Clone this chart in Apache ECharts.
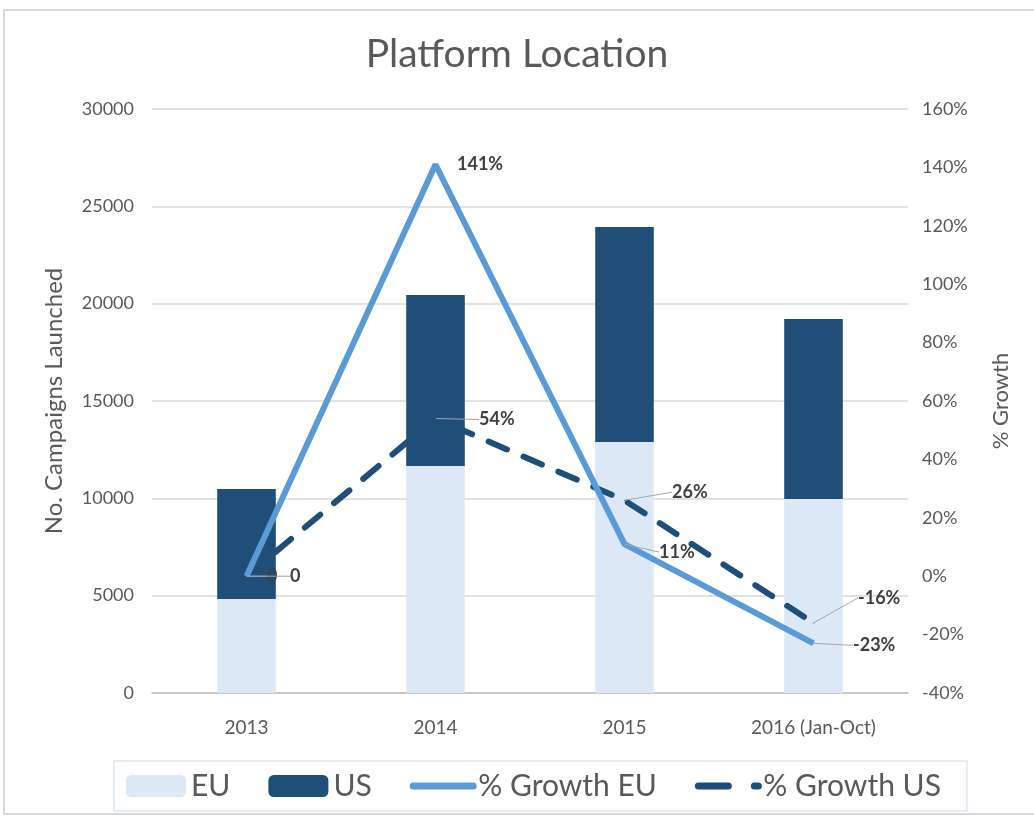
<!DOCTYPE html>
<html>
<head>
<meta charset="utf-8">
<script src="https://cdn.jsdelivr.net/npm/echarts@6/dist/echarts.min.js"></script>
<style>
html,body{margin:0;padding:0;background:#fff;}
#wrap{position:relative;width:1034px;height:820px;overflow:hidden;}
#frame{position:absolute;left:3px;top:9px;width:1040px;height:806px;border:2px solid #d9d9d9;box-sizing:border-box;}
#chart{position:absolute;left:0;top:0;width:1034px;height:820px;}
</style>
</head>
<body>
<div id="wrap"><div id="frame"></div><div id="chart"></div></div>
<script>
const categories = ['2013', '2014', '2015', '2016 (Jan-Oct)'];
const euCampaigns = [4830, 11660, 12890, 9960];
const usCampaigns = [5650, 8790, 11050, 9250];
const growthEU = [0, 141, 11, -23];
const growthUS = [0, 54, 26, -16];
const leftTicks = [0, 30000, 5000];
const rightTicks = [-40, 160, 20];

const FONT = 'Lato, "Open Sans", sans-serif';
const fmt = p => p.value === 0 ? '0' : p.value + '%';

const euLabelOffsets = [[43, 0], [21, 0], [34, 8], [39, 2]];
const usLabelOffsets = [[20, 0], [43, 1], [47, -8], [44, -25]];
const euNoLeader = [false, true, false, false];

const chart = echarts.init(document.getElementById('chart'));
chart.setOption({
  animation: false,
  textStyle: {fontFamily: FONT},
  title: {
    text: 'Platform Location', left: 'center', top: 30,
    textStyle: {fontFamily: FONT, fontSize: 39, fontWeight: 'normal', color: '#595959'}
  },
  grid: {left: 152, right: 126, top: 109, bottom: 127},
  legend: {
    bottom: 9, left: 114,
    padding: [10, 26, 10, 12],
    borderColor: '#dbe7f3', borderWidth: 1.5,
    itemWidth: 60, itemHeight: 22, itemGap: 38,
    textStyle: {fontFamily: FONT, fontSize: 30, color: '#595959'},
    data: [
      {name: 'EU'},
      {name: 'US'},
      {name: '% Growth EU', itemStyle: {opacity: 0}, lineStyle: {width: 7, color: '#5b9bd5', cap: 'round'}},
      {name: '% Growth US', itemStyle: {opacity: 0}, lineStyle: {width: 7, color: '#1f4e79', type: [30, 26], cap: 'round'}}
    ]
  },
  xAxis: {
    type: 'category', data: categories,
    axisTick: {show: false},
    axisLine: {lineStyle: {color: '#bfbfbf', width: 1.5}},
    axisLabel: {fontFamily: FONT, fontSize: 19, color: '#595959', margin: 25}
  },
  yAxis: [
    {
      type: 'value', min: leftTicks[0], max: leftTicks[1], interval: leftTicks[2],
      name: 'No. Campaigns Launched', nameLocation: 'middle', nameRotate: 90, nameGap: 86,
      nameTextStyle: {fontFamily: FONT, fontSize: 24, color: '#595959'},
      axisLabel: {fontFamily: FONT, fontSize: 18, color: '#595959', margin: 18, formatter: v => String(v)},
      splitLine: {lineStyle: {color: '#d9d9d9', width: 1.5}},
      axisLine: {show: false}, axisTick: {show: false}
    },
    {
      type: 'value', min: rightTicks[0], max: rightTicks[1], interval: rightTicks[2],
      name: '% Growth', nameLocation: 'middle', nameRotate: 90, nameGap: 82,
      nameTextStyle: {fontFamily: FONT, fontSize: 22, color: '#595959'},
      axisLabel: {fontFamily: FONT, fontSize: 18, color: '#595959', margin: 14, formatter: '{value}%'},
      splitLine: {show: false}, axisLine: {show: false}, axisTick: {show: false}
    }
  ],
  series: [
    {
      name: 'EU', type: 'bar', stack: 'total', data: euCampaigns, barWidth: '31%',
      itemStyle: {color: '#dce8f5'}
    },
    {
      name: 'US', type: 'bar', stack: 'total', data: usCampaigns, barWidth: '31%',
      itemStyle: {color: '#1f4e79'}
    },
    {
      name: '% Growth US', type: 'line', yAxisIndex: 1, data: growthUS,
      symbol: 'circle', symbolSize: 1, z: 4,
      lineStyle: {color: '#1f4e79', width: 6, type: [20, 18], cap: 'round'},
      itemStyle: {color: '#1f4e79'},
      label: {show: true, position: 'right', distance: 0, formatter: fmt, fontFamily: FONT, fontSize: 18, fontWeight: 'bold', color: '#404040'},
      labelLine: {show: true, lineStyle: {color: '#a6a6a6', width: 1}},
      labelLayout: p => ({dx: usLabelOffsets[p.dataIndex][0], dy: usLabelOffsets[p.dataIndex][1]})
    },
    {
      name: '% Growth EU', type: 'line', yAxisIndex: 1,
      data: growthEU.map((v, i) => euNoLeader[i] ? {value: v, labelLine: {show: false}} : v),
      symbol: 'circle', symbolSize: 1, z: 5,
      lineStyle: {color: '#5b9bd5', width: 6},
      itemStyle: {color: '#5b9bd5'},
      label: {show: true, position: 'right', distance: 0, formatter: fmt, fontFamily: FONT, fontSize: 18, fontWeight: 'bold', color: '#404040'},
      labelLine: {show: true, lineStyle: {color: '#a6a6a6', width: 1}},
      labelLayout: p => ({dx: euLabelOffsets[p.dataIndex][0], dy: euLabelOffsets[p.dataIndex][1]})
    }
  ]
});
</script>
</body>
</html>
